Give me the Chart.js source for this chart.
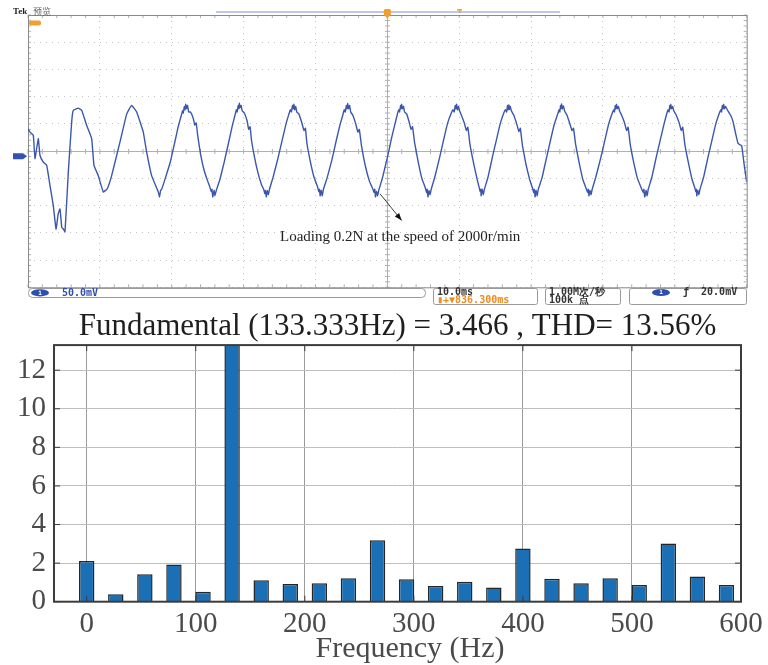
<!DOCTYPE html>
<html>
<head>
<meta charset="utf-8">
<script src="https://cdn.jsdelivr.net/npm/chart.js@4.4.0/dist/chart.umd.min.js"></script>
<style>
  body { margin: 0; background: #fff; }
  #scope { position: absolute; left: 0; top: 0; }
  #fft { position: absolute; left: 0; top: 310px; }
</style>
</head>
<body>
<canvas id="scope" width="768" height="310"></canvas>
<canvas id="fft" width="768" height="355"></canvas>
<script>
// scope trace: time in ms, voltage in mV (50 mV/div)
const scopeTime = [
  0, 0.28, 0.74, 0.97, 1.43, 1.67, 2.13, 2.6, 3.06, 3.52, 3.9, 4.2, 4.45, 4.7, 4.91, 5.15, 5.61, 6.08, 6.3, 7.0, 7.47, 8.17, 8.86, 9.18, 9.78, 10.48, 11.03, 11.64, 12.8, 13.73, 14.42, 15.12, 16.04, 16.51, 17.2, 18.13,
  18.3, 18.45, 18.6, 19.1, 19.8, 20.4, 20.9, 21.3, 21.5, 21.6, 21.75, 21.85, 21.94, 22.05, 22.2, 22.35, 22.6, 23.0, 23.2, 23.4, 23.6, 24.0, 24.5, 25.0, 25.3, 25.5, 25.6, 25.7, 25.8,
  25.9, 26.0, 26.2, 26.7, 27.3, 27.9, 28.4, 28.8, 29.0, 29.1, 29.25, 29.35, 29.4, 29.5, 29.65, 29.8, 30.1, 30.5, 30.7, 30.9, 31.1, 31.5, 32.0, 32.5, 32.8, 32.95, 33.05, 33.15, 33.2,
  33.3, 33.45, 33.6, 34.1, 34.8, 35.4, 35.9, 36.3, 36.5, 36.65, 36.8, 36.9, 37.0, 37.1, 37.25, 37.4, 37.7, 38.1, 38.4, 38.6, 38.8, 39.3, 39.8, 40.3, 40.45, 40.55, 40.65, 40.7,
  40.8, 40.95, 41.1, 41.6, 42.3, 42.9, 43.4, 43.8, 44.0, 44.15, 44.3, 44.4, 44.48, 44.6, 44.75, 44.9, 45.2, 45.6, 45.9, 46.1, 46.4, 46.9, 47.5, 48.0, 48.15, 48.25, 48.35, 48.4,
  48.5, 48.65, 48.8, 49.3, 50.0, 50.6, 51.1, 51.4, 51.6, 51.7, 51.85, 51.92, 51.99, 52.1, 52.25, 52.4, 52.7, 53.0, 53.3, 53.5, 53.8, 54.3, 54.8, 55.3, 55.45, 55.55, 55.65, 55.7,
  55.8, 55.95, 56.1, 56.6, 57.3, 57.9, 58.4, 58.9, 59.15, 59.3, 59.45, 59.55, 59.64, 59.75, 59.9, 60.05, 60.3, 60.7, 61.0, 61.2, 61.5, 62.0, 62.5, 62.8, 62.9, 63.0, 63.05, 63.1,
  63.2, 63.35, 63.5, 64.0, 64.6, 65.2, 65.7, 66.2, 66.45, 66.6, 66.72, 66.82, 66.91, 67.0, 67.1, 67.25, 67.6, 68.0, 68.3, 68.5, 68.8, 69.3, 69.8, 70.2, 70.35, 70.45, 70.55, 70.6,
  70.7, 70.85, 71.0, 71.5, 72.1, 72.7, 73.2, 73.7, 73.9, 74.0, 74.1, 74.18, 74.24, 74.35, 74.5, 74.65, 75.0, 75.4, 75.7, 75.9, 76.2, 76.7, 77.2, 77.7, 77.85, 77.95, 78.05, 78.1,
  78.2, 78.35, 78.5, 79.0, 79.7, 80.3, 80.8, 81.3, 81.5, 81.6, 81.72, 81.8, 81.89, 82.0, 82.15, 82.3, 82.6, 83.0, 83.3, 83.5, 83.8, 84.3, 84.8, 85.4, 85.6, 85.7, 85.8, 85.9,
  86.0, 86.15, 86.3, 86.8, 87.4, 88.0, 88.5, 88.9, 89.05, 89.2, 89.3, 89.38, 89.44, 89.55, 89.7, 89.85, 90.2, 90.6, 90.9, 91.1, 91.4, 91.9, 92.4, 92.8, 92.9, 93.0, 93.05, 93.1,
  93.2, 93.35, 93.5, 94.0, 94.6, 95.2, 95.7, 96.2, 96.4, 96.5, 96.62, 96.72, 96.8, 96.9, 97.05, 97.3, 97.8, 98.1, 98.5, 98.8, 99.3, 99.6, 100
]
const scopeVolt = [
  41, 35, 29, -14, 23, -8, -20, -26, -63, -100, -143, -115, -106, -140, -143, -148, -38, 54, 75, 79, 75, 47, 23, -26, -45, -75, -69, -45, 17, 68, 84, 72, 35, -2, -45, -75,
  -84, -72, -70, -50, -20, 15, 45, 64, 74, 70, 82, 76, 86, 78, 84, 72, 72, 60, 48, 52, 30, -5, -35, -55, -66, -74, -70, -84, -78,
  -72, -82, -72, -52, -20, 15, 45, 66, 76, 72, 84, 78, 88, 80, 84, 74, 70, 55, 40, 45, 20, -10, -40, -62, -70, -78, -72, -84, -80,
  -72, -80, -70, -48, -12, 22, 50, 68, 76, 72, 84, 78, 86, 76, 82, 72, 68, 52, 38, 42, 15, -20, -48, -66, -74, -70, -82, -78,
  -72, -82, -70, -50, -15, 20, 48, 66, 76, 72, 84, 78, 88, 78, 84, 72, 66, 50, 35, 40, 10, -25, -55, -70, -76, -70, -84, -80,
  -74, -82, -72, -50, -12, 25, 52, 68, 76, 72, 84, 78, 86, 78, 82, 72, 68, 55, 40, 45, 15, -20, -50, -68, -76, -70, -84, -80,
  -72, -80, -70, -48, -10, 25, 52, 70, 76, 72, 84, 78, 86, 76, 82, 74, 66, 52, 38, 44, 12, -22, -52, -68, -74, -70, -82, -78,
  -70, -80, -70, -48, -12, 22, 50, 70, 76, 72, 84, 76, 85, 77, 82, 74, 66, 50, 36, 42, 10, -25, -52, -68, -76, -70, -84, -80,
  -72, -82, -70, -50, -15, 20, 48, 68, 76, 72, 84, 78, 87, 78, 83, 74, 66, 50, 38, 42, 12, -22, -52, -70, -76, -70, -82, -78,
  -72, -80, -70, -48, -12, 22, 50, 70, 76, 72, 84, 78, 86, 78, 82, 74, 66, 52, 38, 44, 12, -22, -50, -70, -76, -70, -84, -80,
  -72, -82, -70, -48, -12, 22, 50, 70, 76, 72, 84, 78, 86, 78, 82, 74, 66, 52, 38, 44, 12, -22, -52, -68, -74, -70, -82, -78,
  -72, -80, -70, -48, -12, 22, 50, 70, 76, 72, 84, 78, 86, 78, 82, 76, 65, 54, 30, 14, 10, -20, -57
]

// FFT of the trace: harmonic frequency (Hz) and magnitude (% of fundamental)
const harmonicFreq = [0, 26.667, 53.333, 80, 106.667, 133.333, 160, 186.667, 213.333, 240, 266.667, 293.333,
  320, 346.667, 373.333, 400, 426.667, 453.333, 480, 506.667, 533.333, 560, 586.667]
const harmonicMag = [2.11, 0.38, 1.42, 1.93, 0.52, 100, 1.11, 0.92, 0.95, 1.21, 3.18, 1.16,
  0.81, 1.04, 0.73, 2.76, 1.19, 0.95, 1.21, 0.86, 3.02, 1.31, 0.86]
const fftTitle = 'Fundamental (133.333Hz) = 3.466 , THD= 13.56%'
const freqTicks = [0, 100, 200, 300, 400, 500, 600]
const magTicks = [0, 2, 4, 6, 8, 10, 12]

const toPoints = (xs, ys) => xs.map((x, i) => ({ x: x, y: ys[i] }))
const serif = '"Liberation Serif", "Times New Roman", serif'
const mono = '"DejaVu Sans Mono", monospace'

// screen furniture of the oscilloscope
const scopeDecor = {
  id: 'scopeDecor',
  beforeDatasetsDraw(chart) {
    const { ctx, chartArea: a, scales: { x, y } } = chart
    const cx = Math.round(x.getPixelForValue(50)) + 0.5
    const cy = Math.round(y.getPixelForValue(0)) + 0.5
    ctx.save()
    ctx.strokeStyle = '#b0b0b0'
    ctx.lineWidth = 1
    ctx.beginPath()
    ctx.moveTo(a.left, cy); ctx.lineTo(a.right, cy)
    ctx.moveTo(cx, a.top); ctx.lineTo(cx, a.bottom)
    for (let t = 0; t <= 100; t += 2) {
      const px = x.getPixelForValue(t)
      ctx.moveTo(px, cy - 2.5); ctx.lineTo(px, cy + 2.5)
      ctx.moveTo(px, a.top); ctx.lineTo(px, a.top + 3)
      ctx.moveTo(px, a.bottom); ctx.lineTo(px, a.bottom - 3)
    }
    for (let v = -250; v <= 250; v += 10) {
      const py = y.getPixelForValue(v)
      ctx.moveTo(cx - 2.5, py); ctx.lineTo(cx + 2.5, py)
      ctx.moveTo(a.left, py); ctx.lineTo(a.left + 3, py)
      ctx.moveTo(a.right, py); ctx.lineTo(a.right - 3, py)
    }
    ctx.stroke()
    ctx.strokeStyle = '#8a8a8a'
    ctx.strokeRect(a.left + 0.5, a.top + 0.5, a.right - a.left, a.bottom - a.top)
    ctx.restore()
  },
  afterDraw(chart) {
    const { ctx, scales: { x, y } } = chart
    ctx.save()
    // header
    ctx.textBaseline = 'middle'
    ctx.fillStyle = '#222'
    ctx.font = 'bold 9px ' + serif
    ctx.fillText('Tek', 13, 12)
    ctx.fillStyle = '#666'
    ctx.font = '9px "Noto Sans CJK SC"'
    ctx.fillText('预览', 33, 12)
    ctx.strokeStyle = '#aab2e4'
    ctx.lineWidth = 1.5
    ctx.beginPath(); ctx.moveTo(216, 12); ctx.lineTo(560, 12); ctx.stroke()
    ctx.fillStyle = '#f0a030'
    const tx = x.getPixelForValue(50)
    ctx.beginPath(); ctx.roundRect(tx - 3.5, 9, 7, 7, 1.5); ctx.fill()
    ctx.beginPath(); ctx.moveTo(tx - 2, 16); ctx.lineTo(tx + 2, 16); ctx.lineTo(tx, 19); ctx.fill()
    ctx.fillRect(457, 9, 5, 1.5); ctx.fillRect(459, 9, 1.5, 4)
    ctx.beginPath(); ctx.roundRect(29, 20.5, 12, 5, 2); ctx.fill()
    // channel 1 ground marker
    const gy = y.getPixelForValue(0) + 5
    ctx.fillStyle = '#3352b4'
    ctx.beginPath(); ctx.moveTo(13, gy - 3); ctx.lineTo(23, gy - 3); ctx.lineTo(27, gy); ctx.lineTo(23, gy + 3); ctx.lineTo(13, gy + 3); ctx.fill()

    // status bar
    ctx.strokeStyle = '#9a9a9a'
    ctx.lineWidth = 1
    ctx.beginPath(); ctx.roundRect(28.5, 288.5, 397, 9, 4); ctx.stroke()
    ctx.beginPath(); ctx.roundRect(433.5, 288.5, 104, 16, 2); ctx.stroke()
    ctx.beginPath(); ctx.roundRect(545.5, 288.5, 75, 16, 2); ctx.stroke()
    ctx.beginPath(); ctx.roundRect(629.5, 288.5, 117, 16, 2); ctx.stroke()
    ctx.fillStyle = '#2d4fb2'
    ctx.beginPath(); ctx.ellipse(40, 292.8, 9, 3.6, 0, 0, Math.PI * 2); ctx.fill()
    ctx.beginPath(); ctx.ellipse(661, 292.5, 9, 3.6, 0, 0, Math.PI * 2); ctx.fill()
    ctx.fillStyle = '#fff'
    ctx.font = 'bold 6px ' + mono
    ctx.textAlign = 'center'
    ctx.fillText('1', 40, 293)
    ctx.fillText('1', 661, 292.7)
    ctx.textAlign = 'left'
    ctx.font = 'bold 10px ' + mono
    ctx.fillStyle = '#3050b0'
    ctx.fillText('50.0mV', 62, 293)
    ctx.fillStyle = '#333'
    ctx.fillText('10.0ms', 437, 292.5)
    ctx.fillText('1.00M次/秒', 549, 292.5)
    ctx.fillText('100k 点', 549, 300.5)
    ctx.fillText('ƒ  20.0mV', 683, 292.5)
    ctx.fillStyle = '#f08a1c'
    ctx.fillText('▮+▼836.300ms', 437, 300.5)

    // annotation
    const ax0 = x.getPixelForValue(48.98), ay0 = y.getPixelForValue(-78.4)
    const ax1 = x.getPixelForValue(52.0), ay1 = y.getPixelForValue(-127.4)
    ctx.strokeStyle = '#111'
    ctx.fillStyle = '#111'
    ctx.lineWidth = 0.8
    ctx.beginPath(); ctx.moveTo(ax0, ay0); ctx.lineTo(ax1, ay1); ctx.stroke()
    const ang = Math.atan2(ay1 - ay0, ax1 - ax0)
    ctx.beginPath()
    ctx.moveTo(ax1, ay1)
    ctx.lineTo(ax1 - 8 * Math.cos(ang - 0.35), ay1 - 8 * Math.sin(ang - 0.35))
    ctx.lineTo(ax1 - 8 * Math.cos(ang + 0.35), ay1 - 8 * Math.sin(ang + 0.35))
    ctx.fill()
    ctx.font = '15px ' + serif
    ctx.fillStyle = '#222'
    ctx.fillText('Loading 0.2N at the speed of 2000r/min', x.getPixelForValue(35.06), y.getPixelForValue(-157))
    ctx.restore()
  }
}

new Chart(document.getElementById('scope'), {
  type: 'line',
  data: {
    datasets: [{
      data: toPoints(scopeTime, scopeVolt),
      borderColor: '#3b57ad',
      borderWidth: 1.4,
      pointRadius: 0,
      tension: 0.1
    }]
  },
  options: {
    responsive: false,
    animation: false,
    layout: { padding: { left: 28, right: 21.3, top: 15, bottom: 22.7 } },
    plugins: { legend: { display: false }, tooltip: { enabled: false } },
    scales: {
      x: {
        type: 'linear', min: 0, max: 100,
        ticks: { display: false, stepSize: 10 },
        grid: { drawTicks: false, color: c => c.tick.value === 50 ? 'rgba(0,0,0,0)' : '#c4c4c4' },
        border: { display: false, dash: [1, 5] }
      },
      y: {
        type: 'linear', min: -250, max: 250,
        ticks: { display: false, stepSize: 50 },
        grid: { drawTicks: false, color: c => c.tick.value === 0 ? 'rgba(0,0,0,0)' : '#c4c4c4' },
        border: { display: false, dash: [1, 5] }
      }
    }
  },
  plugins: [scopeDecor]
})

// MATLAB style box, inner ticks and the x label
const fftFrame = {
  id: 'fftFrame',
  afterDatasetsDraw(chart) {
    const { ctx, chartArea: a, scales: { x, y } } = chart
    ctx.save()
    ctx.strokeStyle = '#3c3c3c'
    ctx.lineWidth = 1
    ctx.beginPath()
    magTicks.forEach(v => {
      const py = y.getPixelForValue(v)
      ctx.moveTo(a.right, py); ctx.lineTo(a.right - 6, py)
      ctx.moveTo(a.left, py); ctx.lineTo(a.left + 6, py)
    })
    freqTicks.forEach(v => {
      const px = x.getPixelForValue(v)
      ctx.moveTo(px, a.bottom); ctx.lineTo(px, a.bottom - 6)
      ctx.moveTo(px, a.top); ctx.lineTo(px, a.top + 6)
    })
    ctx.stroke()
    ctx.lineWidth = 2
    ctx.strokeRect(a.left, a.top, a.right - a.left, a.bottom - a.top)
    ctx.fillStyle = '#4a4a4a'
    ctx.font = '30px ' + serif
    ctx.textAlign = 'center'
    ctx.textBaseline = 'middle'
    ctx.fillText('Frequency (Hz)', 410, 339)
    ctx.restore()
  }
}

new Chart(document.getElementById('fft'), {
  type: 'bar',
  data: {
    datasets: [{
      data: toPoints(harmonicFreq, harmonicMag),
      backgroundColor: '#1b6fb5',
      borderColor: '#262626',
      borderWidth: 1.5,
      barPercentage: 0.53,
      categoryPercentage: 1,
      clip: 0
    }]
  },
  options: {
    responsive: false,
    animation: false,
    layout: { padding: { left: 0, right: 27, top: 0, bottom: 0 } },
    plugins: {
      legend: { display: false },
      tooltip: { enabled: false },
      title: {
        display: true,
        fullSize: false,
        text: fftTitle,
        color: '#1e1e1e',
        font: { family: serif, size: 31, weight: 'normal', lineHeight: 1.1 },
        padding: { top: 0, bottom: 1 }
      }
    },
    scales: {
      x: {
        type: 'linear', min: -30, max: 600, offset: false,
        ticks: { stepSize: 100, includeBounds: false, maxRotation: 0, padding: 5, color: '#4a4a4a', font: { family: serif, size: 29 } },
        grid: { offset: false, drawTicks: false, color: '#9a9a9a' },
        border: { display: false },
        afterFit: s => { s.height = 63.3 }
      },
      y: {
        min: 0, max: 13.3,
        ticks: { stepSize: 2, includeBounds: false, padding: 8, color: '#4a4a4a', font: { family: serif, size: 29 } },
        grid: { drawTicks: false, color: '#bebebe' },
        border: { display: false },
        afterFit: s => { s.width = 54 }
      }
    }
  },
  plugins: [fftFrame]
})
</script>
</body>
</html>
